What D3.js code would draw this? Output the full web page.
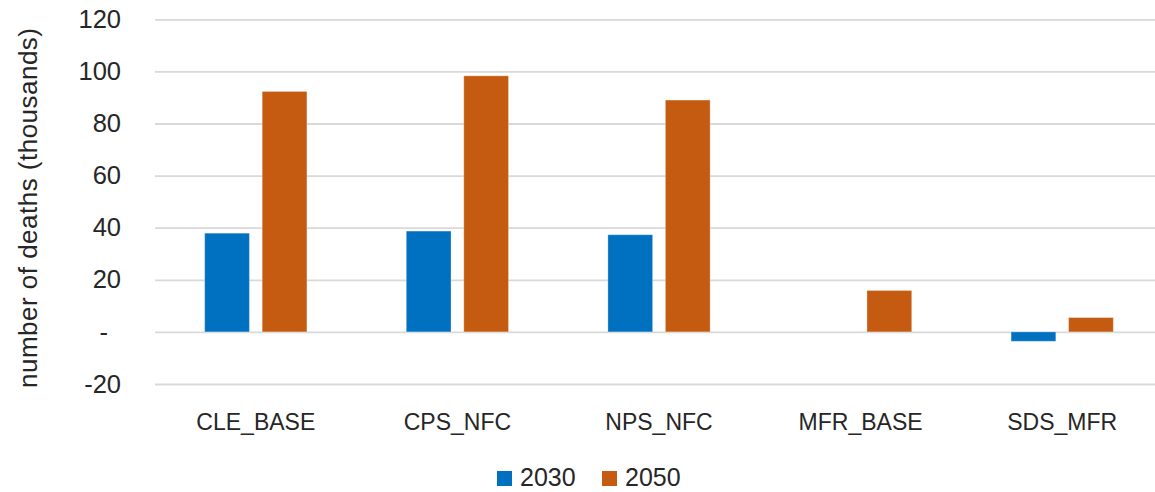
<!DOCTYPE html>
<html>
<head>
<meta charset="utf-8">
<script src="https://cdn.jsdelivr.net/npm/d3@7"></script>
<style>
  html, body { margin: 0; padding: 0; background: #fff; }
  svg { display: block; font-family: "Liberation Sans", Arial, sans-serif; }
</style>
</head>
<body>
<svg id="chart" width="1155" height="492"></svg>
<script>
// Scenario categories along the x axis
const categories = ["CLE_BASE", "CPS_NFC", "NPS_NFC", "MFR_BASE", "SDS_MFR"];
// Series names (years)
const seriesNames = ["2030", "2050"];
// Number of deaths (thousands) per scenario
const values2030 = [37.9, 38.7, 37.3, 0, -3.6];
const values2050 = [92.3, 98.3, 89.0, 15.9, 5.5];
// Y axis ticks and their printed labels
const yTicks = [-20, 0, 20, 40, 60, 80, 100, 120];
const yTickLabels = ["-20", "-", "20", "40", "60", "80", "100", "120"];
const seriesColors = ["#0070C0", "#C55A11"];

const svg = d3.select("#chart");
const plot = { left: 155, right: 1163, top: 19.3, bottom: 384 };
const textColor = "#262626";

const seriesValues = [values2030, values2050];
const rows = categories.map((c, i) => ({
  category: c,
  values: seriesNames.map((s, j) => ({ series: s, value: seriesValues[j][i] }))
}));

const y = d3.scaleLinear().domain([-20, 120]).range([plot.bottom, plot.top]);
const x0 = d3.scaleBand().domain(categories).range([plot.left, plot.right]).padding(0);
const x1 = d3.scaleBand().domain(seriesNames).range([0, x0.bandwidth()])
  .paddingInner(0.222).paddingOuter(0.864);
const color = d3.scaleOrdinal().domain(seriesNames).range(seriesColors);

// Horizontal gridlines with value labels
const yAxis = d3.axisLeft(y).tickValues(yTicks)
  .tickSize(-(plot.right - plot.left))
  .tickFormat((d, i) => yTickLabels[i]);
const gy = svg.append("g").attr("transform", `translate(${plot.left},0)`).call(yAxis);
gy.select(".domain").remove();
gy.selectAll(".tick line").attr("stroke", "#d9d9d9").attr("stroke-width", 1.8);
gy.selectAll(".tick text")
  .attr("x", -34)
  .attr("dx", d => d === 0 ? -13 : 0)
  .attr("fill", textColor)
  .style("font-size", "25.5px");

// Bars
const groups = svg.append("g").selectAll("g").data(rows).join("g")
  .attr("transform", d => `translate(${x0(d.category)},0)`);
groups.selectAll("rect").data(d => d.values.filter(v => v.value !== 0)).join("rect")
  .attr("x", d => x1(d.series))
  .attr("width", x1.bandwidth())
  .attr("y", d => y(Math.max(0, d.value)))
  .attr("height", d => Math.abs(y(d.value) - y(0)))
  .attr("fill", d => color(d.series))
  .attr("stroke", "#ffffff")
  .attr("stroke-opacity", 0.3)
  .attr("stroke-width", 1);

// Category labels
const xAxis = d3.axisBottom(x0).tickSize(0).tickPadding(0);
const gx = svg.append("g").attr("transform", `translate(0,${plot.bottom})`).call(xAxis);
gx.select(".domain").remove();
gx.selectAll(".tick text")
  .attr("y", 46)
  .attr("dy", 0)
  .attr("fill", textColor)
  .style("font-size", "23px");

// Y axis title
svg.append("text")
  .attr("transform", "translate(37,208) rotate(-90)")
  .attr("text-anchor", "middle")
  .attr("fill", textColor)
  .attr("textLength", 360)
  .attr("lengthAdjust", "spacing")
  .style("font-size", "26px")
  .text("number of deaths (thousands)");

// Legend
const legend = svg.append("g").attr("transform", "translate(497,471)");
const legendX = d3.scaleOrdinal().domain(seriesNames).range([0, 105]);
const item = legend.selectAll("g").data(seriesNames).join("g")
  .attr("transform", d => `translate(${legendX(d)},0)`);
item.append("rect").attr("width", 15).attr("height", 15).attr("fill", d => color(d));
item.append("text").attr("x", 23).attr("y", 15)
  .attr("fill", textColor).style("font-size", "25px").text(d => d);
</script>
</body>
</html>
